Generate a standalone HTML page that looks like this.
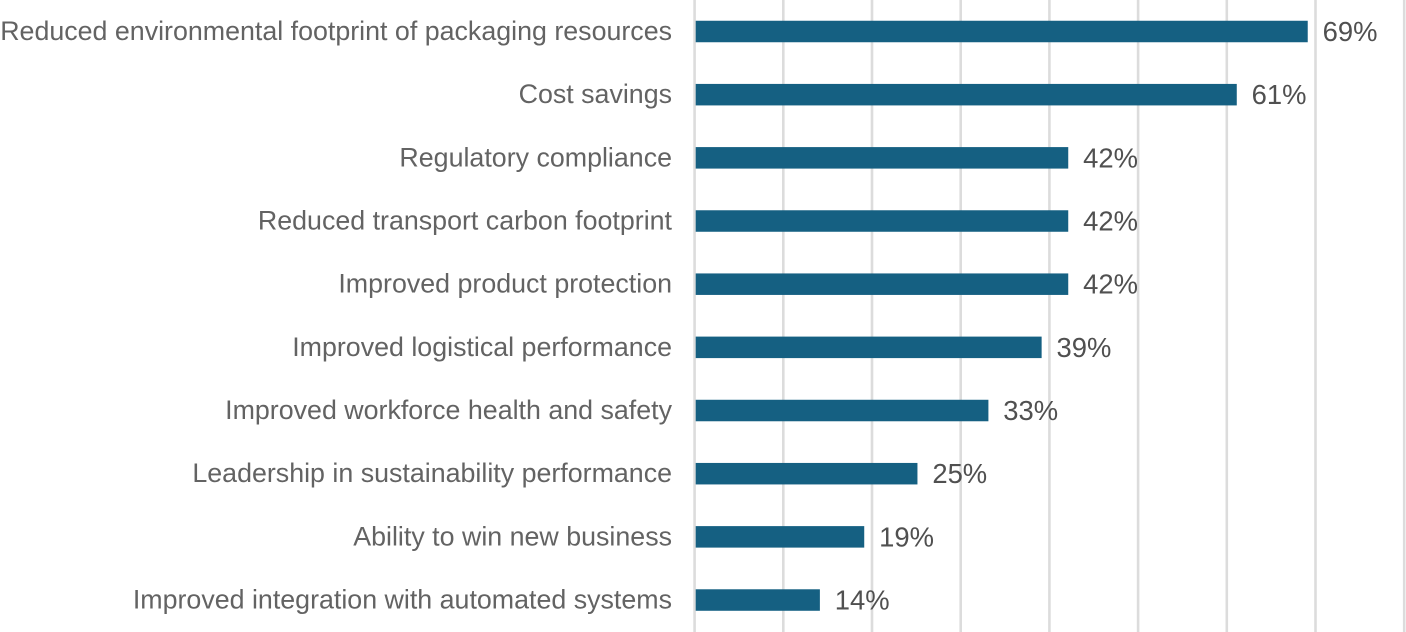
<!DOCTYPE html>
<html lang="en">
<head>
<meta charset="utf-8">
<title>Packaging benefits chart</title>
<style>
html,body{margin:0;padding:0;background:#fff;width:1406px;height:632px;overflow:hidden}
svg{display:block;font-family:"Liberation Sans",Arial,sans-serif}
</style>
</head>
<body>
<svg id="chart" width="1406" height="632" viewBox="0 0 1406 632" xmlns="http://www.w3.org/2000/svg"></svg>
<script>
const categories = [
  "Reduced environmental footprint of packaging resources",
  "Cost savings",
  "Regulatory compliance",
  "Reduced transport carbon footprint",
  "Improved product protection",
  "Improved logistical performance",
  "Improved workforce health and safety",
  "Leadership in sustainability performance",
  "Ability to win new business",
  "Improved integration with automated systems"
];
const values = [69, 61, 42, 42, 42, 39, 33, 25, 19, 14];
const gridTicks = [0, 10, 20, 30, 40, 50, 60, 70, 80];

const svg = document.getElementById('chart');
const NS = 'http://www.w3.org/2000/svg';
const xScale = v => 694.6 + v * 8.87;
const yCenter = i => 31.5 + i * 63.17;
const barHeight = 21.5;
const barInset = 1.1;

function make(tag, attrs, parent) {
  const el = document.createElementNS(NS, tag);
  for (const k in attrs) el.setAttribute(k, attrs[k]);
  parent.appendChild(el);
  return el;
}

const gridGroup = make('g', {}, svg);


gridTicks.forEach(t => {
  const line = make('line', {x1: xScale(t), x2: xScale(t), y1: 0, y2: 632, stroke: '#dcdcdc', 'stroke-width': 2.6}, gridGroup);
  
  
});

categories.forEach((c, i) => {
  const cy = yCenter(i);
  const label = make('text', {x: 672, y: cy + 8.5, 'text-anchor': 'end', 'font-size': 26.8, fill: '#636363'}, svg);
  label.textContent = c;
  
  

  const bar = make('rect', {x: xScale(0) + barInset, y: cy - barHeight / 2, width: xScale(values[i]) - xScale(0), height: barHeight, fill: '#156082'}, svg);
  
  

  const val = make('text', {x: xScale(values[i]) + 16, y: cy + 9.5, 'font-size': 27.4, fill: '#505050'}, svg);
  val.textContent = values[i] + '%';
  
  
});
</script>
</body>
</html>
